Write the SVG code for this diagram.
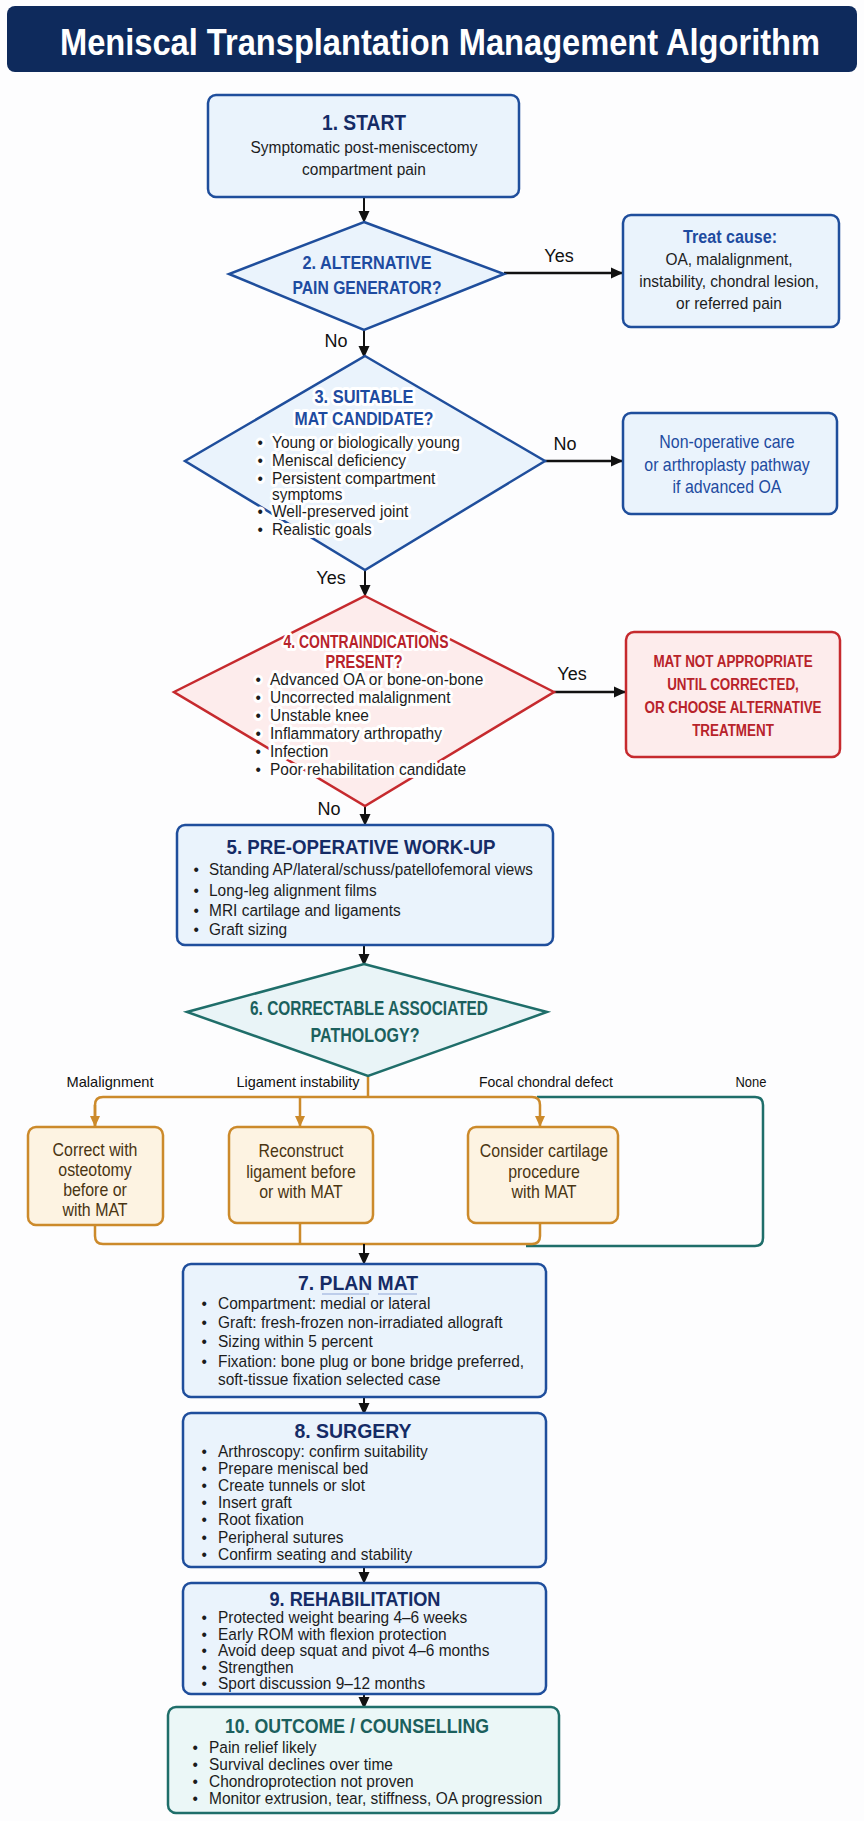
<svg xmlns="http://www.w3.org/2000/svg" width="864" height="1821" viewBox="0 0 864 1821">
<style>
text{font-family:"Liberation Sans",Arial,sans-serif;}
.h{font-weight:bold;text-anchor:middle;}
.navy{fill:#152b66;}
.blue{fill:#1e4ba0;}
.red{fill:#b8232a;}
.teal{fill:#1b605d;}
.brown{fill:#4a3512;}
.body{font-size:17px;fill:#1c1c1c;}
.c{text-anchor:middle;}
.lbl{font-size:18px;fill:#111;text-anchor:middle;}
.blbl{font-size:15px;fill:#111;text-anchor:middle;}
.bx{fill:#eaf3fc;stroke:#1f4e9c;stroke-width:2.5;}
.rbx{fill:#fdecec;stroke:#c62a2e;stroke-width:2.5;}
.obx{fill:#fdf3e2;stroke:#cc8a2b;stroke-width:2.5;}
.tbx{fill:#ebf7f7;stroke:#1f6e6a;stroke-width:2.5;}
.halo{paint-order:stroke;stroke:#ffffff;stroke-width:6px;stroke-linejoin:round;}
.ln{fill:none;stroke:#111;stroke-width:2;}
.lnw{fill:none;stroke:#111;stroke-width:2.6;}
.oln{fill:none;stroke:#cc8a2b;stroke-width:2.5;}
.tln{fill:none;stroke:#1f6e6a;stroke-width:2.5;}
</style>
<defs>
<marker id="ah" markerUnits="userSpaceOnUse" markerWidth="12" markerHeight="12" refX="11" refY="6" orient="auto">
<path d="M0,0.5 L12,6 L0,11.5 z" fill="#111"/>
</marker>
<marker id="oah" markerUnits="userSpaceOnUse" markerWidth="11" markerHeight="11" refX="10" refY="5.5" orient="auto">
<path d="M0,0.5 L11,5.5 L0,10.5 z" fill="#cc8a2b"/>
</marker>
</defs>
<rect width="864" height="1821" fill="#fdfdfe"/>

<g id="title">
<rect x="7" y="6" width="850" height="66" rx="8" fill="#0e2a5c"/>
<text transform="translate(440,55) scale(1,1.13)" x="0" y="0" class="h" font-size="32.5" fill="#ffffff" textLength="760" lengthAdjust="spacingAndGlyphs">Meniscal Transplantation Management Algorithm</text>
</g>

<g id="connectors">
<path class="ln" d="M364,197 V222" marker-end="url(#ah)"/>
<path class="lnw" d="M504,273 H622" marker-end="url(#ah)"/>
<path class="ln" d="M364,330 V357" marker-end="url(#ah)"/>
<path class="lnw" d="M545,461 H622" marker-end="url(#ah)"/>
<path class="ln" d="M365,570 V596" marker-end="url(#ah)"/>
<path class="lnw" d="M554,692 H625" marker-end="url(#ah)"/>
<path class="ln" d="M365,806 V825" marker-end="url(#ah)"/>
<path class="ln" d="M364,945 V965" marker-end="url(#ah)"/>
<path class="tln" d="M537,1097 H755 Q763,1097 763,1105 V1238 Q763,1246 755,1246 H526"/>
<path class="oln" d="M368,1076 V1097"/>
<path class="oln" d="M95,1126 V1105 Q95,1097 103,1097 H532 Q540,1097 540,1105 V1126" marker-end="url(#oah)"/>
<path class="oln" d="M95,1105 V1126" marker-end="url(#oah)"/>
<path class="oln" d="M300,1097 V1126" marker-end="url(#oah)"/>
<path class="oln" d="M95,1225 V1236 Q95,1244 103,1244 H532 Q540,1244 540,1236 V1223"/>
<path class="oln" d="M300,1223 V1244"/>
<path class="ln" d="M364,1244 V1264" marker-end="url(#ah)"/>
<path class="ln" d="M364,1397 V1414" marker-end="url(#ah)"/>
<path class="ln" d="M364,1567 V1583" marker-end="url(#ah)"/>
<path class="ln" d="M364,1694 V1708" marker-end="url(#ah)"/>
<text x="559" y="262" class="lbl">Yes</text>
<text x="336" y="347" class="lbl">No</text>
<text x="565" y="450" class="lbl">No</text>
<text x="331" y="584" class="lbl">Yes</text>
<text x="572" y="680" class="lbl">Yes</text>
<text x="329" y="815" class="lbl">No</text>
<text x="110" y="1087" class="blbl" textLength="87" lengthAdjust="spacingAndGlyphs">Malalignment</text>
<text x="298" y="1087" class="blbl" textLength="123" lengthAdjust="spacingAndGlyphs">Ligament instability</text>
<text x="546" y="1087" class="blbl" textLength="134" lengthAdjust="spacingAndGlyphs">Focal chondral defect</text>
<text x="751" y="1087" class="blbl" textLength="31" lengthAdjust="spacingAndGlyphs">None</text>
</g>

<g id="n1">
<rect x="208" y="95" width="311" height="102" rx="8" class="bx"/>
<text x="364" y="130" class="h navy" font-size="22" textLength="84" lengthAdjust="spacingAndGlyphs">1. START</text>
<g transform="matrix(0.91 0 0 1 32.76 0)">
<text x="364" y="153" class="body c" font-size="18">Symptomatic post-meniscectomy</text>
<text x="364" y="175" class="body c" font-size="18">compartment pain</text>
</g>
</g>

<g id="n2">
<polygon points="364,222 504,274 364,330 229,274" class="bx" stroke-width="2.2"/>
<text x="367" y="269" class="h blue" font-size="18" fill="#1b3a8a" textLength="129" lengthAdjust="spacingAndGlyphs">2. ALTERNATIVE</text>
<text x="367" y="294" class="h blue" font-size="18" textLength="149" lengthAdjust="spacingAndGlyphs">PAIN GENERATOR?</text>
</g>

<g id="n2yes">
<rect x="623" y="215" width="216" height="112" rx="8" class="bx"/>
<text x="730" y="243" class="h blue" font-size="17.5" textLength="94" lengthAdjust="spacingAndGlyphs">Treat cause:</text>
<g transform="matrix(0.91 0 0 1 65.61 0)">
<text x="729" y="265" class="body c" font-size="17.5">OA, malalignment,</text>
<text x="729" y="287" class="body c" font-size="17.5">instability, chondral lesion,</text>
<text x="729" y="309" class="body c" font-size="17.5">or referred pain</text>
</g>
</g>

<g id="n3">
<polygon points="365,356 545,461 365,570 185,461" class="bx" stroke-width="2.2"/>
<text x="364" y="403" class="h blue halo" font-size="18" textLength="99" lengthAdjust="spacingAndGlyphs">3. SUITABLE</text>
<text x="364" y="425" class="h blue halo" font-size="18" textLength="139" lengthAdjust="spacingAndGlyphs">MAT CANDIDATE?</text>
<g class="body halo" transform="matrix(0.91 0 0 1 24.48 0)">
<text x="256" y="448">•</text><text x="272" y="448">Young or biologically young</text>
<text x="256" y="466">•</text><text x="272" y="466">Meniscal deficiency</text>
<text x="256" y="484">•</text><text x="272" y="484">Persistent compartment</text>
<text x="272" y="500">symptoms</text>
<text x="256" y="517">•</text><text x="272" y="517">Well-preserved joint</text>
<text x="256" y="535">•</text><text x="272" y="535">Realistic goals</text>
</g>
</g>

<g id="n3no">
<rect x="623" y="413" width="214" height="101" rx="8" class="bx"/>
<g transform="matrix(0.91 0 0 1 65.43 0)">
<text x="727" y="448" class="c blue" font-size="17.5">Non-operative care</text>
<text x="727" y="471" class="c blue" font-size="17.5">or arthroplasty pathway</text>
<text x="727" y="493" class="c blue" font-size="17.5">if advanced OA</text>
</g>
</g>

<g id="n4">
<polygon points="365,596 554,692 365,806 174,692" class="rbx" stroke-width="2.2"/>
<text x="366" y="648" class="h red halo" font-size="18" textLength="165" lengthAdjust="spacingAndGlyphs">4. CONTRAINDICATIONS</text>
<text x="364" y="668" class="h red halo" font-size="18" textLength="77" lengthAdjust="spacingAndGlyphs">PRESENT?</text>
<g class="body halo" transform="matrix(0.91 0 0 1 24.3 0)">
<text x="254" y="685">•</text><text x="270" y="685">Advanced OA or bone-on-bone</text>
<text x="254" y="703">•</text><text x="270" y="703">Uncorrected malalignment</text>
<text x="254" y="721">•</text><text x="270" y="721">Unstable knee</text>
<text x="254" y="739">•</text><text x="270" y="739">Inflammatory arthropathy</text>
<text x="254" y="757">•</text><text x="270" y="757">Infection</text>
<text x="254" y="775">•</text><text x="270" y="775">Poor rehabilitation candidate</text>
</g>
</g>

<g id="n4yes">
<rect x="626" y="632" width="214" height="125" rx="8" class="rbx"/>
<g class="h red" font-size="17" transform="matrix(0.79 0 0 1 153.93 0)">
<text x="733" y="667">MAT NOT APPROPRIATE</text>
<text x="733" y="690">UNTIL CORRECTED,</text>
<text x="733" y="713">OR CHOOSE ALTERNATIVE</text>
<text x="733" y="736">TREATMENT</text>
</g>
</g>

<g id="n5">
<rect x="177" y="825" width="376" height="120" rx="8" class="bx"/>
<text x="361" y="854" class="h navy" font-size="20.5" textLength="269" lengthAdjust="spacingAndGlyphs">5. PRE-OPERATIVE WORK-UP</text>
<g class="body" transform="matrix(0.91 0 0 1 18.81 0)">
<text x="192" y="875">•</text><text x="209" y="875" textLength="356" lengthAdjust="spacingAndGlyphs">Standing AP/lateral/schuss/patellofemoral views</text>
<text x="192" y="896">•</text><text x="209" y="896">Long-leg alignment films</text>
<text x="192" y="916">•</text><text x="209" y="916">MRI cartilage and ligaments</text>
<text x="192" y="935">•</text><text x="209" y="935">Graft sizing</text>
</g>
</g>

<g id="n6">
<polygon points="364,964 547,1012 368,1076 187,1012" fill="#e9f4f7" stroke="#1f6e6a" stroke-width="2.5"/>
<text x="369" y="1015" class="h teal" font-size="21" textLength="238" lengthAdjust="spacingAndGlyphs">6. CORRECTABLE ASSOCIATED</text>
<text x="365" y="1042" class="h teal" font-size="21" textLength="109" lengthAdjust="spacingAndGlyphs">PATHOLOGY?</text>
</g>

<g id="n6a">
<rect x="28" y="1127" width="135" height="98" rx="8" class="obx"/>
<g class="brown c" font-size="17.5" transform="matrix(0.91 0 0 1 8.55 0)">
<text x="95" y="1156">Correct with</text>
<text x="95" y="1176">osteotomy</text>
<text x="95" y="1196">before or</text>
<text x="95" y="1216">with MAT</text>
</g>
</g>

<g id="n6b">
<rect x="229" y="1127" width="144" height="96" rx="8" class="obx"/>
<g class="brown c" font-size="17.5" transform="matrix(0.91 0 0 1 27.09 0)">
<text x="301" y="1157">Reconstruct</text>
<text x="301" y="1178">ligament before</text>
<text x="301" y="1198">or with MAT</text>
</g>
</g>

<g id="n6c">
<rect x="468" y="1127" width="150" height="96" rx="8" class="obx"/>
<g class="brown c" font-size="17.5" transform="matrix(0.91 0 0 1 48.96 0)">
<text x="544" y="1157">Consider cartilage</text>
<text x="544" y="1178">procedure</text>
<text x="544" y="1198">with MAT</text>
</g>
</g>

<g id="n7">
<rect x="183" y="1264" width="363" height="133" rx="8" class="bx"/>
<text x="358" y="1290" class="h navy" font-size="21" textLength="120" lengthAdjust="spacingAndGlyphs">7. PLAN MAT</text>
<path d="M322,1294 H369 M378,1294 H417" stroke="#8fa8d8" stroke-width="1.2"/>
<g class="body" transform="matrix(0.91 0 0 1 19.62 0)">
<text x="200" y="1309">•</text><text x="218" y="1309">Compartment: medial or lateral</text>
<text x="200" y="1328">•</text><text x="218" y="1328">Graft: fresh-frozen non-irradiated allograft</text>
<text x="200" y="1347">•</text><text x="218" y="1347">Sizing within 5 percent</text>
<text x="200" y="1367">•</text><text x="218" y="1367">Fixation: bone plug or bone bridge preferred,</text>
<text x="218" y="1385">soft-tissue fixation selected case</text>
</g>
</g>

<g id="n8">
<rect x="183" y="1413" width="363" height="154" rx="8" class="bx"/>
<text x="353" y="1438" class="h navy" font-size="21" textLength="117" lengthAdjust="spacingAndGlyphs">8. SURGERY</text>
<g class="body" transform="matrix(0.91 0 0 1 19.62 0)">
<text x="200" y="1457">•</text><text x="218" y="1457">Arthroscopy: confirm suitability</text>
<text x="200" y="1474">•</text><text x="218" y="1474">Prepare meniscal bed</text>
<text x="200" y="1491">•</text><text x="218" y="1491">Create tunnels or slot</text>
<text x="200" y="1508">•</text><text x="218" y="1508">Insert graft</text>
<text x="200" y="1525">•</text><text x="218" y="1525">Root fixation</text>
<text x="200" y="1543">•</text><text x="218" y="1543">Peripheral sutures</text>
<text x="200" y="1560">•</text><text x="218" y="1560">Confirm seating and stability</text>
</g>
</g>

<g id="n9">
<rect x="183" y="1583" width="363" height="111" rx="8" class="bx"/>
<text x="355" y="1606" class="h navy" font-size="19.5" textLength="171" lengthAdjust="spacingAndGlyphs">9. REHABILITATION</text>
<g class="body" transform="matrix(0.91 0 0 1 19.62 0)">
<text x="200" y="1623">•</text><text x="218" y="1623">Protected weight bearing 4–6 weeks</text>
<text x="200" y="1640">•</text><text x="218" y="1640">Early ROM with flexion protection</text>
<text x="200" y="1656">•</text><text x="218" y="1656">Avoid deep squat and pivot 4–6 months</text>
<text x="200" y="1673">•</text><text x="218" y="1673">Strengthen</text>
<text x="200" y="1689">•</text><text x="218" y="1689">Sport discussion 9–12 months</text>
</g>
</g>

<g id="n10">
<rect x="168" y="1707" width="391" height="106" rx="8" class="tbx"/>
<text x="357" y="1733" class="h teal" font-size="19.5" textLength="264" lengthAdjust="spacingAndGlyphs">10. OUTCOME / COUNSELLING</text>
<g class="body" transform="matrix(0.91 0 0 1 18.81 0)">
<text x="191" y="1753">•</text><text x="209" y="1753">Pain relief likely</text>
<text x="191" y="1770">•</text><text x="209" y="1770">Survival declines over time</text>
<text x="191" y="1787">•</text><text x="209" y="1787">Chondroprotection not proven</text>
<text x="191" y="1804">•</text><text x="209" y="1804">Monitor extrusion, tear, stiffness, OA progression</text>
</g>
</g>
</svg>
